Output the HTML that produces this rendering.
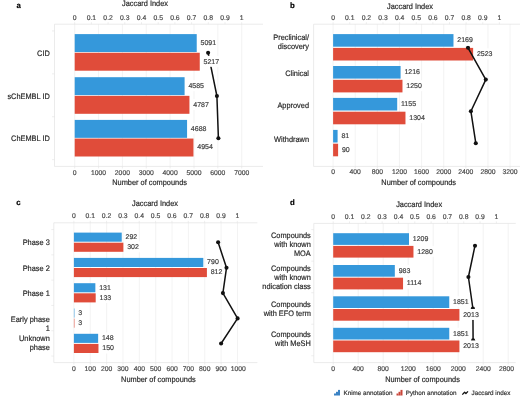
<!DOCTYPE html>
<html><head><meta charset="utf-8"><style>
html,body{margin:0;padding:0;background:#fff;width:520px;height:397px;overflow:hidden}
svg{display:block;font-family:"Liberation Sans", sans-serif;filter:blur(0.3px);text-rendering:geometricPrecision}
</style></head><body>
<svg width="520" height="397" viewBox="0 0 520 397">
<rect width="520" height="397" fill="#fff"/>
<line x1="74.70" y1="24.20" x2="74.70" y2="166.40" stroke="#ebebeb" stroke-width="0.6"/>
<line x1="74.70" y1="166.40" x2="74.70" y2="168.40" stroke="#e3e3e3" stroke-width="0.6"/>
<text x="74.70" y="174.90" font-size="6.8" fill="#4a4a4a" stroke="#4a4a4a" stroke-width="0.18" text-anchor="middle">0</text>
<line x1="98.56" y1="24.20" x2="98.56" y2="166.40" stroke="#ebebeb" stroke-width="0.6"/>
<line x1="98.56" y1="166.40" x2="98.56" y2="168.40" stroke="#e3e3e3" stroke-width="0.6"/>
<text x="98.56" y="174.90" font-size="6.8" fill="#4a4a4a" stroke="#4a4a4a" stroke-width="0.18" text-anchor="middle">1000</text>
<line x1="122.41" y1="24.20" x2="122.41" y2="166.40" stroke="#ebebeb" stroke-width="0.6"/>
<line x1="122.41" y1="166.40" x2="122.41" y2="168.40" stroke="#e3e3e3" stroke-width="0.6"/>
<text x="122.41" y="174.90" font-size="6.8" fill="#4a4a4a" stroke="#4a4a4a" stroke-width="0.18" text-anchor="middle">2000</text>
<line x1="146.27" y1="24.20" x2="146.27" y2="166.40" stroke="#ebebeb" stroke-width="0.6"/>
<line x1="146.27" y1="166.40" x2="146.27" y2="168.40" stroke="#e3e3e3" stroke-width="0.6"/>
<text x="146.27" y="174.90" font-size="6.8" fill="#4a4a4a" stroke="#4a4a4a" stroke-width="0.18" text-anchor="middle">3000</text>
<line x1="170.13" y1="24.20" x2="170.13" y2="166.40" stroke="#ebebeb" stroke-width="0.6"/>
<line x1="170.13" y1="166.40" x2="170.13" y2="168.40" stroke="#e3e3e3" stroke-width="0.6"/>
<text x="170.13" y="174.90" font-size="6.8" fill="#4a4a4a" stroke="#4a4a4a" stroke-width="0.18" text-anchor="middle">4000</text>
<line x1="193.99" y1="24.20" x2="193.99" y2="166.40" stroke="#ebebeb" stroke-width="0.6"/>
<line x1="193.99" y1="166.40" x2="193.99" y2="168.40" stroke="#e3e3e3" stroke-width="0.6"/>
<text x="193.99" y="174.90" font-size="6.8" fill="#4a4a4a" stroke="#4a4a4a" stroke-width="0.18" text-anchor="middle">5000</text>
<line x1="217.84" y1="24.20" x2="217.84" y2="166.40" stroke="#ebebeb" stroke-width="0.6"/>
<line x1="217.84" y1="166.40" x2="217.84" y2="168.40" stroke="#e3e3e3" stroke-width="0.6"/>
<text x="217.84" y="174.90" font-size="6.8" fill="#4a4a4a" stroke="#4a4a4a" stroke-width="0.18" text-anchor="middle">6000</text>
<line x1="241.70" y1="24.20" x2="241.70" y2="166.40" stroke="#ebebeb" stroke-width="0.6"/>
<line x1="241.70" y1="166.40" x2="241.70" y2="168.40" stroke="#e3e3e3" stroke-width="0.6"/>
<text x="241.70" y="174.90" font-size="6.8" fill="#4a4a4a" stroke="#4a4a4a" stroke-width="0.18" text-anchor="middle">7000</text>
<line x1="74.70" y1="22.20" x2="74.70" y2="24.20" stroke="#e3e3e3" stroke-width="0.6"/>
<text x="74.70" y="19.80" font-size="6.8" fill="#4a4a4a" stroke="#4a4a4a" stroke-width="0.18" text-anchor="middle">0</text>
<line x1="91.40" y1="22.20" x2="91.40" y2="24.20" stroke="#e3e3e3" stroke-width="0.6"/>
<text x="91.40" y="19.80" font-size="6.8" fill="#4a4a4a" stroke="#4a4a4a" stroke-width="0.18" text-anchor="middle">0.1</text>
<line x1="108.10" y1="22.20" x2="108.10" y2="24.20" stroke="#e3e3e3" stroke-width="0.6"/>
<text x="108.10" y="19.80" font-size="6.8" fill="#4a4a4a" stroke="#4a4a4a" stroke-width="0.18" text-anchor="middle">0.2</text>
<line x1="124.80" y1="22.20" x2="124.80" y2="24.20" stroke="#e3e3e3" stroke-width="0.6"/>
<text x="124.80" y="19.80" font-size="6.8" fill="#4a4a4a" stroke="#4a4a4a" stroke-width="0.18" text-anchor="middle">0.3</text>
<line x1="141.50" y1="22.20" x2="141.50" y2="24.20" stroke="#e3e3e3" stroke-width="0.6"/>
<text x="141.50" y="19.80" font-size="6.8" fill="#4a4a4a" stroke="#4a4a4a" stroke-width="0.18" text-anchor="middle">0.4</text>
<line x1="158.20" y1="22.20" x2="158.20" y2="24.20" stroke="#e3e3e3" stroke-width="0.6"/>
<text x="158.20" y="19.80" font-size="6.8" fill="#4a4a4a" stroke="#4a4a4a" stroke-width="0.18" text-anchor="middle">0.5</text>
<line x1="174.90" y1="22.20" x2="174.90" y2="24.20" stroke="#e3e3e3" stroke-width="0.6"/>
<text x="174.90" y="19.80" font-size="6.8" fill="#4a4a4a" stroke="#4a4a4a" stroke-width="0.18" text-anchor="middle">0.6</text>
<line x1="191.60" y1="22.20" x2="191.60" y2="24.20" stroke="#e3e3e3" stroke-width="0.6"/>
<text x="191.60" y="19.80" font-size="6.8" fill="#4a4a4a" stroke="#4a4a4a" stroke-width="0.18" text-anchor="middle">0.7</text>
<line x1="208.30" y1="22.20" x2="208.30" y2="24.20" stroke="#e3e3e3" stroke-width="0.6"/>
<text x="208.30" y="19.80" font-size="6.8" fill="#4a4a4a" stroke="#4a4a4a" stroke-width="0.18" text-anchor="middle">0.8</text>
<line x1="225.00" y1="22.20" x2="225.00" y2="24.20" stroke="#e3e3e3" stroke-width="0.6"/>
<text x="225.00" y="19.80" font-size="6.8" fill="#4a4a4a" stroke="#4a4a4a" stroke-width="0.18" text-anchor="middle">0.9</text>
<line x1="241.70" y1="22.20" x2="241.70" y2="24.20" stroke="#e3e3e3" stroke-width="0.6"/>
<text x="241.70" y="19.80" font-size="6.8" fill="#4a4a4a" stroke="#4a4a4a" stroke-width="0.18" text-anchor="middle">1</text>
<line x1="54.50" y1="24.20" x2="263.00" y2="24.20" stroke="#e3e3e3" stroke-width="0.7"/>
<line x1="54.50" y1="166.40" x2="263.00" y2="166.40" stroke="#e3e3e3" stroke-width="0.7"/>
<line x1="54.50" y1="24.20" x2="54.50" y2="166.40" stroke="#e3e3e3" stroke-width="0.7"/>
<line x1="52.00" y1="30.95" x2="54.50" y2="30.95" stroke="#e3e3e3" stroke-width="0.6"/>
<line x1="52.00" y1="73.85" x2="54.50" y2="73.85" stroke="#e3e3e3" stroke-width="0.6"/>
<line x1="52.00" y1="116.75" x2="54.50" y2="116.75" stroke="#e3e3e3" stroke-width="0.6"/>
<line x1="52.00" y1="159.65" x2="54.50" y2="159.65" stroke="#e3e3e3" stroke-width="0.6"/>
<rect x="74.70" y="34.10" width="122.03" height="17.95" fill="#3598db"/>
<rect x="74.70" y="52.75" width="125.05" height="17.95" fill="#e04c3a"/>
<rect x="74.70" y="77.20" width="109.90" height="17.95" fill="#3598db"/>
<rect x="74.70" y="95.85" width="114.74" height="17.95" fill="#e04c3a"/>
<rect x="74.70" y="119.90" width="112.37" height="17.95" fill="#3598db"/>
<rect x="74.70" y="138.55" width="118.75" height="17.95" fill="#e04c3a"/>
<polyline points="208.10,52.80 216.90,96.00 218.40,138.30" fill="none" stroke="#111" stroke-width="1.5" stroke-linejoin="round"/>
<circle cx="208.10" cy="52.80" r="2.05" fill="#111"/>
<circle cx="216.90" cy="96.00" r="2.05" fill="#111"/>
<circle cx="218.40" cy="138.30" r="2.05" fill="#111"/>
<rect x="199.53" y="37.17" width="17.57" height="11" fill="#fff"/>
<text x="200.53" y="44.93" font-size="7.0" fill="#404040" stroke="#404040" stroke-width="0.18" text-anchor="start">5091</text>
<rect x="202.55" y="55.83" width="17.57" height="11" fill="#fff"/>
<text x="203.55" y="63.58" font-size="7.0" fill="#404040" stroke="#404040" stroke-width="0.18" text-anchor="start">5217</text>
<rect x="187.40" y="80.27" width="17.57" height="11" fill="#fff"/>
<text x="188.40" y="88.03" font-size="7.0" fill="#404040" stroke="#404040" stroke-width="0.18" text-anchor="start">4585</text>
<rect x="192.24" y="98.92" width="17.57" height="11" fill="#fff"/>
<text x="193.24" y="106.68" font-size="7.0" fill="#404040" stroke="#404040" stroke-width="0.18" text-anchor="start">4787</text>
<rect x="189.87" y="122.97" width="17.57" height="11" fill="#fff"/>
<text x="190.87" y="130.73" font-size="7.0" fill="#404040" stroke="#404040" stroke-width="0.18" text-anchor="start">4688</text>
<rect x="196.25" y="141.62" width="17.57" height="11" fill="#fff"/>
<text x="197.25" y="149.38" font-size="7.0" fill="#404040" stroke="#404040" stroke-width="0.18" text-anchor="start">4954</text>
<text transform="translate(49.80,55.90) scale(0.93,1)" font-size="7.95" fill="#262626" stroke="#262626" stroke-width="0.18" text-anchor="end">CID</text>
<text transform="translate(49.80,98.90) scale(0.93,1)" font-size="7.95" fill="#262626" stroke="#262626" stroke-width="0.18" text-anchor="end">sChEMBL ID</text>
<text transform="translate(49.80,141.40) scale(0.93,1)" font-size="7.95" fill="#262626" stroke="#262626" stroke-width="0.18" text-anchor="end">ChEMBL ID</text>
<text transform="translate(145.00,5.80) scale(0.93,1)" font-size="7.95" fill="#262626" stroke="#262626" stroke-width="0.18" text-anchor="middle">Jaccard Index</text>
<text transform="translate(149.60,185.00) scale(0.93,1)" font-size="7.95" fill="#262626" stroke="#262626" stroke-width="0.18" text-anchor="middle">Number of compounds</text>
<text x="16.50" y="7.70" font-size="7.8" fill="#000" stroke="#000" stroke-width="0.18" text-anchor="start" font-weight="bold">a</text>
<line x1="333.10" y1="24.20" x2="333.10" y2="166.40" stroke="#ebebeb" stroke-width="0.6"/>
<line x1="333.10" y1="166.40" x2="333.10" y2="168.40" stroke="#e3e3e3" stroke-width="0.6"/>
<text x="333.10" y="174.00" font-size="6.8" fill="#4a4a4a" stroke="#4a4a4a" stroke-width="0.18" text-anchor="middle">0</text>
<line x1="355.22" y1="24.20" x2="355.22" y2="166.40" stroke="#ebebeb" stroke-width="0.6"/>
<line x1="355.22" y1="166.40" x2="355.22" y2="168.40" stroke="#e3e3e3" stroke-width="0.6"/>
<text x="355.22" y="174.00" font-size="6.8" fill="#4a4a4a" stroke="#4a4a4a" stroke-width="0.18" text-anchor="middle">400</text>
<line x1="377.34" y1="24.20" x2="377.34" y2="166.40" stroke="#ebebeb" stroke-width="0.6"/>
<line x1="377.34" y1="166.40" x2="377.34" y2="168.40" stroke="#e3e3e3" stroke-width="0.6"/>
<text x="377.34" y="174.00" font-size="6.8" fill="#4a4a4a" stroke="#4a4a4a" stroke-width="0.18" text-anchor="middle">800</text>
<line x1="399.46" y1="24.20" x2="399.46" y2="166.40" stroke="#ebebeb" stroke-width="0.6"/>
<line x1="399.46" y1="166.40" x2="399.46" y2="168.40" stroke="#e3e3e3" stroke-width="0.6"/>
<text x="399.46" y="174.00" font-size="6.8" fill="#4a4a4a" stroke="#4a4a4a" stroke-width="0.18" text-anchor="middle">1200</text>
<line x1="421.58" y1="24.20" x2="421.58" y2="166.40" stroke="#ebebeb" stroke-width="0.6"/>
<line x1="421.58" y1="166.40" x2="421.58" y2="168.40" stroke="#e3e3e3" stroke-width="0.6"/>
<text x="421.58" y="174.00" font-size="6.8" fill="#4a4a4a" stroke="#4a4a4a" stroke-width="0.18" text-anchor="middle">1600</text>
<line x1="443.70" y1="24.20" x2="443.70" y2="166.40" stroke="#ebebeb" stroke-width="0.6"/>
<line x1="443.70" y1="166.40" x2="443.70" y2="168.40" stroke="#e3e3e3" stroke-width="0.6"/>
<text x="443.70" y="174.00" font-size="6.8" fill="#4a4a4a" stroke="#4a4a4a" stroke-width="0.18" text-anchor="middle">2000</text>
<line x1="465.82" y1="24.20" x2="465.82" y2="166.40" stroke="#ebebeb" stroke-width="0.6"/>
<line x1="465.82" y1="166.40" x2="465.82" y2="168.40" stroke="#e3e3e3" stroke-width="0.6"/>
<text x="465.82" y="174.00" font-size="6.8" fill="#4a4a4a" stroke="#4a4a4a" stroke-width="0.18" text-anchor="middle">2400</text>
<line x1="487.94" y1="24.20" x2="487.94" y2="166.40" stroke="#ebebeb" stroke-width="0.6"/>
<line x1="487.94" y1="166.40" x2="487.94" y2="168.40" stroke="#e3e3e3" stroke-width="0.6"/>
<text x="487.94" y="174.00" font-size="6.8" fill="#4a4a4a" stroke="#4a4a4a" stroke-width="0.18" text-anchor="middle">2800</text>
<line x1="510.06" y1="24.20" x2="510.06" y2="166.40" stroke="#ebebeb" stroke-width="0.6"/>
<line x1="510.06" y1="166.40" x2="510.06" y2="168.40" stroke="#e3e3e3" stroke-width="0.6"/>
<text x="510.06" y="174.00" font-size="6.8" fill="#4a4a4a" stroke="#4a4a4a" stroke-width="0.18" text-anchor="middle">3200</text>
<line x1="333.10" y1="22.20" x2="333.10" y2="24.20" stroke="#e3e3e3" stroke-width="0.6"/>
<text x="333.10" y="19.80" font-size="6.8" fill="#4a4a4a" stroke="#4a4a4a" stroke-width="0.18" text-anchor="middle">0</text>
<line x1="349.73" y1="22.20" x2="349.73" y2="24.20" stroke="#e3e3e3" stroke-width="0.6"/>
<text x="349.73" y="19.80" font-size="6.8" fill="#4a4a4a" stroke="#4a4a4a" stroke-width="0.18" text-anchor="middle">0.1</text>
<line x1="366.36" y1="22.20" x2="366.36" y2="24.20" stroke="#e3e3e3" stroke-width="0.6"/>
<text x="366.36" y="19.80" font-size="6.8" fill="#4a4a4a" stroke="#4a4a4a" stroke-width="0.18" text-anchor="middle">0.2</text>
<line x1="382.99" y1="22.20" x2="382.99" y2="24.20" stroke="#e3e3e3" stroke-width="0.6"/>
<text x="382.99" y="19.80" font-size="6.8" fill="#4a4a4a" stroke="#4a4a4a" stroke-width="0.18" text-anchor="middle">0.3</text>
<line x1="399.62" y1="22.20" x2="399.62" y2="24.20" stroke="#e3e3e3" stroke-width="0.6"/>
<text x="399.62" y="19.80" font-size="6.8" fill="#4a4a4a" stroke="#4a4a4a" stroke-width="0.18" text-anchor="middle">0.4</text>
<line x1="416.25" y1="22.20" x2="416.25" y2="24.20" stroke="#e3e3e3" stroke-width="0.6"/>
<text x="416.25" y="19.80" font-size="6.8" fill="#4a4a4a" stroke="#4a4a4a" stroke-width="0.18" text-anchor="middle">0.5</text>
<line x1="432.88" y1="22.20" x2="432.88" y2="24.20" stroke="#e3e3e3" stroke-width="0.6"/>
<text x="432.88" y="19.80" font-size="6.8" fill="#4a4a4a" stroke="#4a4a4a" stroke-width="0.18" text-anchor="middle">0.6</text>
<line x1="449.51" y1="22.20" x2="449.51" y2="24.20" stroke="#e3e3e3" stroke-width="0.6"/>
<text x="449.51" y="19.80" font-size="6.8" fill="#4a4a4a" stroke="#4a4a4a" stroke-width="0.18" text-anchor="middle">0.7</text>
<line x1="466.14" y1="22.20" x2="466.14" y2="24.20" stroke="#e3e3e3" stroke-width="0.6"/>
<text x="466.14" y="19.80" font-size="6.8" fill="#4a4a4a" stroke="#4a4a4a" stroke-width="0.18" text-anchor="middle">0.8</text>
<line x1="482.77" y1="22.20" x2="482.77" y2="24.20" stroke="#e3e3e3" stroke-width="0.6"/>
<text x="482.77" y="19.80" font-size="6.8" fill="#4a4a4a" stroke="#4a4a4a" stroke-width="0.18" text-anchor="middle">0.9</text>
<line x1="499.40" y1="22.20" x2="499.40" y2="24.20" stroke="#e3e3e3" stroke-width="0.6"/>
<text x="499.40" y="19.80" font-size="6.8" fill="#4a4a4a" stroke="#4a4a4a" stroke-width="0.18" text-anchor="middle">1</text>
<line x1="313.60" y1="24.20" x2="520.00" y2="24.20" stroke="#e3e3e3" stroke-width="0.7"/>
<line x1="313.60" y1="166.40" x2="520.00" y2="166.40" stroke="#e3e3e3" stroke-width="0.7"/>
<line x1="313.60" y1="24.20" x2="313.60" y2="166.40" stroke="#e3e3e3" stroke-width="0.7"/>
<rect x="333.10" y="34.10" width="120.38" height="12.60" fill="#3598db"/>
<rect x="333.10" y="47.90" width="140.03" height="12.60" fill="#e04c3a"/>
<rect x="333.10" y="66.00" width="67.49" height="12.60" fill="#3598db"/>
<rect x="333.10" y="79.80" width="69.38" height="12.60" fill="#e04c3a"/>
<rect x="333.10" y="97.90" width="64.10" height="12.60" fill="#3598db"/>
<rect x="333.10" y="111.70" width="72.37" height="12.60" fill="#e04c3a"/>
<rect x="333.10" y="129.90" width="4.50" height="12.60" fill="#3598db"/>
<rect x="333.10" y="143.70" width="5.00" height="12.60" fill="#e04c3a"/>
<polyline points="468.00,47.80 485.80,79.60 470.90,111.30 475.80,143.20" fill="none" stroke="#111" stroke-width="1.5" stroke-linejoin="round"/>
<circle cx="468.00" cy="47.80" r="2.05" fill="#111"/>
<circle cx="485.80" cy="79.60" r="2.05" fill="#111"/>
<circle cx="470.90" cy="111.30" r="2.05" fill="#111"/>
<circle cx="475.80" cy="143.20" r="2.05" fill="#111"/>
<rect x="456.28" y="34.50" width="17.57" height="11" fill="#fff"/>
<text x="457.28" y="42.25" font-size="7.0" fill="#404040" stroke="#404040" stroke-width="0.18" text-anchor="start">2169</text>
<rect x="475.93" y="48.30" width="17.57" height="11" fill="#fff"/>
<text x="476.93" y="56.05" font-size="7.0" fill="#404040" stroke="#404040" stroke-width="0.18" text-anchor="start">2523</text>
<rect x="403.39" y="66.40" width="17.57" height="11" fill="#fff"/>
<text x="404.39" y="74.15" font-size="7.0" fill="#404040" stroke="#404040" stroke-width="0.18" text-anchor="start">1216</text>
<rect x="405.28" y="80.20" width="17.57" height="11" fill="#fff"/>
<text x="406.28" y="87.95" font-size="7.0" fill="#404040" stroke="#404040" stroke-width="0.18" text-anchor="start">1250</text>
<rect x="400.00" y="98.30" width="17.57" height="11" fill="#fff"/>
<text x="401.00" y="106.05" font-size="7.0" fill="#404040" stroke="#404040" stroke-width="0.18" text-anchor="start">1155</text>
<rect x="408.27" y="112.10" width="17.57" height="11" fill="#fff"/>
<text x="409.27" y="119.85" font-size="7.0" fill="#404040" stroke="#404040" stroke-width="0.18" text-anchor="start">1304</text>
<rect x="340.40" y="130.30" width="9.78" height="11" fill="#fff"/>
<text x="341.40" y="138.05" font-size="7.0" fill="#404040" stroke="#404040" stroke-width="0.18" text-anchor="start">81</text>
<rect x="340.90" y="144.10" width="9.78" height="11" fill="#fff"/>
<text x="341.90" y="151.85" font-size="7.0" fill="#404040" stroke="#404040" stroke-width="0.18" text-anchor="start">90</text>
<text transform="translate(309.00,39.85) scale(0.93,1)" font-size="7.95" fill="#262626" stroke="#262626" stroke-width="0.18" text-anchor="end">Preclinical/</text>
<text transform="translate(309.00,48.75) scale(0.93,1)" font-size="7.95" fill="#262626" stroke="#262626" stroke-width="0.18" text-anchor="end">discovery</text>
<text transform="translate(309.00,75.60) scale(0.93,1)" font-size="7.95" fill="#262626" stroke="#262626" stroke-width="0.18" text-anchor="end">Clinical</text>
<text transform="translate(309.00,107.90) scale(0.93,1)" font-size="7.95" fill="#262626" stroke="#262626" stroke-width="0.18" text-anchor="end">Approved</text>
<text transform="translate(309.00,141.70) scale(0.93,1)" font-size="7.95" fill="#262626" stroke="#262626" stroke-width="0.18" text-anchor="end">Withdrawn</text>
<text transform="translate(410.00,8.65) scale(0.93,1)" font-size="7.95" fill="#262626" stroke="#262626" stroke-width="0.18" text-anchor="middle">Jaccard Index</text>
<text transform="translate(418.70,185.40) scale(0.93,1)" font-size="7.95" fill="#262626" stroke="#262626" stroke-width="0.18" text-anchor="middle">Number of compounds</text>
<text x="290.00" y="7.50" font-size="7.8" fill="#000" stroke="#000" stroke-width="0.18" text-anchor="start" font-weight="bold">b</text>
<line x1="73.90" y1="222.80" x2="73.90" y2="362.60" stroke="#ebebeb" stroke-width="0.6"/>
<line x1="73.90" y1="362.60" x2="73.90" y2="364.60" stroke="#e3e3e3" stroke-width="0.6"/>
<text x="73.90" y="371.00" font-size="6.8" fill="#4a4a4a" stroke="#4a4a4a" stroke-width="0.18" text-anchor="middle">0</text>
<line x1="90.26" y1="222.80" x2="90.26" y2="362.60" stroke="#ebebeb" stroke-width="0.6"/>
<line x1="90.26" y1="362.60" x2="90.26" y2="364.60" stroke="#e3e3e3" stroke-width="0.6"/>
<text x="90.26" y="371.00" font-size="6.8" fill="#4a4a4a" stroke="#4a4a4a" stroke-width="0.18" text-anchor="middle">100</text>
<line x1="106.62" y1="222.80" x2="106.62" y2="362.60" stroke="#ebebeb" stroke-width="0.6"/>
<line x1="106.62" y1="362.60" x2="106.62" y2="364.60" stroke="#e3e3e3" stroke-width="0.6"/>
<text x="106.62" y="371.00" font-size="6.8" fill="#4a4a4a" stroke="#4a4a4a" stroke-width="0.18" text-anchor="middle">200</text>
<line x1="122.98" y1="222.80" x2="122.98" y2="362.60" stroke="#ebebeb" stroke-width="0.6"/>
<line x1="122.98" y1="362.60" x2="122.98" y2="364.60" stroke="#e3e3e3" stroke-width="0.6"/>
<text x="122.98" y="371.00" font-size="6.8" fill="#4a4a4a" stroke="#4a4a4a" stroke-width="0.18" text-anchor="middle">300</text>
<line x1="139.34" y1="222.80" x2="139.34" y2="362.60" stroke="#ebebeb" stroke-width="0.6"/>
<line x1="139.34" y1="362.60" x2="139.34" y2="364.60" stroke="#e3e3e3" stroke-width="0.6"/>
<text x="139.34" y="371.00" font-size="6.8" fill="#4a4a4a" stroke="#4a4a4a" stroke-width="0.18" text-anchor="middle">400</text>
<line x1="155.70" y1="222.80" x2="155.70" y2="362.60" stroke="#ebebeb" stroke-width="0.6"/>
<line x1="155.70" y1="362.60" x2="155.70" y2="364.60" stroke="#e3e3e3" stroke-width="0.6"/>
<text x="155.70" y="371.00" font-size="6.8" fill="#4a4a4a" stroke="#4a4a4a" stroke-width="0.18" text-anchor="middle">500</text>
<line x1="172.06" y1="222.80" x2="172.06" y2="362.60" stroke="#ebebeb" stroke-width="0.6"/>
<line x1="172.06" y1="362.60" x2="172.06" y2="364.60" stroke="#e3e3e3" stroke-width="0.6"/>
<text x="172.06" y="371.00" font-size="6.8" fill="#4a4a4a" stroke="#4a4a4a" stroke-width="0.18" text-anchor="middle">600</text>
<line x1="188.42" y1="222.80" x2="188.42" y2="362.60" stroke="#ebebeb" stroke-width="0.6"/>
<line x1="188.42" y1="362.60" x2="188.42" y2="364.60" stroke="#e3e3e3" stroke-width="0.6"/>
<text x="188.42" y="371.00" font-size="6.8" fill="#4a4a4a" stroke="#4a4a4a" stroke-width="0.18" text-anchor="middle">700</text>
<line x1="204.78" y1="222.80" x2="204.78" y2="362.60" stroke="#ebebeb" stroke-width="0.6"/>
<line x1="204.78" y1="362.60" x2="204.78" y2="364.60" stroke="#e3e3e3" stroke-width="0.6"/>
<text x="204.78" y="371.00" font-size="6.8" fill="#4a4a4a" stroke="#4a4a4a" stroke-width="0.18" text-anchor="middle">800</text>
<line x1="221.14" y1="222.80" x2="221.14" y2="362.60" stroke="#ebebeb" stroke-width="0.6"/>
<line x1="221.14" y1="362.60" x2="221.14" y2="364.60" stroke="#e3e3e3" stroke-width="0.6"/>
<text x="221.14" y="371.00" font-size="6.8" fill="#4a4a4a" stroke="#4a4a4a" stroke-width="0.18" text-anchor="middle">900</text>
<line x1="237.50" y1="222.80" x2="237.50" y2="362.60" stroke="#ebebeb" stroke-width="0.6"/>
<line x1="237.50" y1="362.60" x2="237.50" y2="364.60" stroke="#e3e3e3" stroke-width="0.6"/>
<text x="238.30" y="371.00" font-size="6.8" fill="#4a4a4a" stroke="#4a4a4a" stroke-width="0.18" text-anchor="middle">1000</text>
<line x1="73.90" y1="220.80" x2="73.90" y2="222.80" stroke="#e3e3e3" stroke-width="0.6"/>
<text x="73.90" y="218.00" font-size="6.8" fill="#4a4a4a" stroke="#4a4a4a" stroke-width="0.18" text-anchor="middle">0</text>
<line x1="90.24" y1="220.80" x2="90.24" y2="222.80" stroke="#e3e3e3" stroke-width="0.6"/>
<text x="90.24" y="218.00" font-size="6.8" fill="#4a4a4a" stroke="#4a4a4a" stroke-width="0.18" text-anchor="middle">0.1</text>
<line x1="106.58" y1="220.80" x2="106.58" y2="222.80" stroke="#e3e3e3" stroke-width="0.6"/>
<text x="106.58" y="218.00" font-size="6.8" fill="#4a4a4a" stroke="#4a4a4a" stroke-width="0.18" text-anchor="middle">0.2</text>
<line x1="122.92" y1="220.80" x2="122.92" y2="222.80" stroke="#e3e3e3" stroke-width="0.6"/>
<text x="122.92" y="218.00" font-size="6.8" fill="#4a4a4a" stroke="#4a4a4a" stroke-width="0.18" text-anchor="middle">0.3</text>
<line x1="139.26" y1="220.80" x2="139.26" y2="222.80" stroke="#e3e3e3" stroke-width="0.6"/>
<text x="139.26" y="218.00" font-size="6.8" fill="#4a4a4a" stroke="#4a4a4a" stroke-width="0.18" text-anchor="middle">0.4</text>
<line x1="155.60" y1="220.80" x2="155.60" y2="222.80" stroke="#e3e3e3" stroke-width="0.6"/>
<text x="155.60" y="218.00" font-size="6.8" fill="#4a4a4a" stroke="#4a4a4a" stroke-width="0.18" text-anchor="middle">0.5</text>
<line x1="171.94" y1="220.80" x2="171.94" y2="222.80" stroke="#e3e3e3" stroke-width="0.6"/>
<text x="171.94" y="218.00" font-size="6.8" fill="#4a4a4a" stroke="#4a4a4a" stroke-width="0.18" text-anchor="middle">0.6</text>
<line x1="188.28" y1="220.80" x2="188.28" y2="222.80" stroke="#e3e3e3" stroke-width="0.6"/>
<text x="188.28" y="218.00" font-size="6.8" fill="#4a4a4a" stroke="#4a4a4a" stroke-width="0.18" text-anchor="middle">0.7</text>
<line x1="204.62" y1="220.80" x2="204.62" y2="222.80" stroke="#e3e3e3" stroke-width="0.6"/>
<text x="204.62" y="218.00" font-size="6.8" fill="#4a4a4a" stroke="#4a4a4a" stroke-width="0.18" text-anchor="middle">0.8</text>
<line x1="220.96" y1="220.80" x2="220.96" y2="222.80" stroke="#e3e3e3" stroke-width="0.6"/>
<text x="220.96" y="218.00" font-size="6.8" fill="#4a4a4a" stroke="#4a4a4a" stroke-width="0.18" text-anchor="middle">0.9</text>
<line x1="237.30" y1="220.80" x2="237.30" y2="222.80" stroke="#e3e3e3" stroke-width="0.6"/>
<text x="237.30" y="218.00" font-size="6.8" fill="#4a4a4a" stroke="#4a4a4a" stroke-width="0.18" text-anchor="middle">1</text>
<line x1="53.80" y1="222.80" x2="257.40" y2="222.80" stroke="#e3e3e3" stroke-width="0.7"/>
<line x1="53.80" y1="362.60" x2="257.40" y2="362.60" stroke="#e3e3e3" stroke-width="0.7"/>
<line x1="53.80" y1="222.80" x2="53.80" y2="362.60" stroke="#e3e3e3" stroke-width="0.7"/>
<line x1="51.30" y1="229.55" x2="53.80" y2="229.55" stroke="#e3e3e3" stroke-width="0.6"/>
<line x1="51.30" y1="254.85" x2="53.80" y2="254.85" stroke="#e3e3e3" stroke-width="0.6"/>
<line x1="51.30" y1="280.15" x2="53.80" y2="280.15" stroke="#e3e3e3" stroke-width="0.6"/>
<line x1="51.30" y1="305.45" x2="53.80" y2="305.45" stroke="#e3e3e3" stroke-width="0.6"/>
<line x1="51.30" y1="330.75" x2="53.80" y2="330.75" stroke="#e3e3e3" stroke-width="0.6"/>
<line x1="51.30" y1="356.05" x2="53.80" y2="356.05" stroke="#e3e3e3" stroke-width="0.6"/>
<rect x="73.90" y="232.60" width="47.83" height="9.10" fill="#3598db"/>
<rect x="73.90" y="242.70" width="49.47" height="9.10" fill="#e04c3a"/>
<rect x="73.90" y="257.90" width="129.40" height="9.10" fill="#3598db"/>
<rect x="73.90" y="268.00" width="133.01" height="9.10" fill="#e04c3a"/>
<rect x="73.90" y="283.20" width="21.46" height="9.10" fill="#3598db"/>
<rect x="73.90" y="293.30" width="21.79" height="9.10" fill="#e04c3a"/>
<rect x="73.90" y="308.50" width="0.50" height="9.10" fill="#3598db"/>
<rect x="73.90" y="318.60" width="0.50" height="9.10" fill="#e04c3a"/>
<rect x="73.90" y="333.80" width="24.24" height="9.10" fill="#3598db"/>
<rect x="73.90" y="343.90" width="24.57" height="9.10" fill="#e04c3a"/>
<polyline points="218.10,242.30 226.50,267.80 222.90,293.10 237.60,318.40 221.10,343.50" fill="none" stroke="#111" stroke-width="1.5" stroke-linejoin="round"/>
<circle cx="218.10" cy="242.30" r="2.05" fill="#111"/>
<circle cx="226.50" cy="267.80" r="2.05" fill="#111"/>
<circle cx="222.90" cy="293.10" r="2.05" fill="#111"/>
<circle cx="237.60" cy="318.40" r="2.05" fill="#111"/>
<circle cx="221.10" cy="343.50" r="2.05" fill="#111"/>
<rect x="124.53" y="231.25" width="13.68" height="11" fill="#fff"/>
<text x="125.53" y="239.00" font-size="7.0" fill="#404040" stroke="#404040" stroke-width="0.18" text-anchor="start">292</text>
<rect x="126.17" y="241.35" width="13.68" height="11" fill="#fff"/>
<text x="127.17" y="249.10" font-size="7.0" fill="#404040" stroke="#404040" stroke-width="0.18" text-anchor="start">302</text>
<rect x="206.10" y="256.55" width="13.68" height="11" fill="#fff"/>
<text x="207.10" y="264.30" font-size="7.0" fill="#404040" stroke="#404040" stroke-width="0.18" text-anchor="start">790</text>
<rect x="209.71" y="266.65" width="13.68" height="11" fill="#fff"/>
<text x="210.71" y="274.40" font-size="7.0" fill="#404040" stroke="#404040" stroke-width="0.18" text-anchor="start">812</text>
<rect x="98.16" y="281.85" width="13.68" height="11" fill="#fff"/>
<text x="99.16" y="289.60" font-size="7.0" fill="#404040" stroke="#404040" stroke-width="0.18" text-anchor="start">131</text>
<rect x="98.49" y="291.95" width="13.68" height="11" fill="#fff"/>
<text x="99.49" y="299.70" font-size="7.0" fill="#404040" stroke="#404040" stroke-width="0.18" text-anchor="start">133</text>
<rect x="77.19" y="307.15" width="5.89" height="11" fill="#fff"/>
<text x="78.19" y="314.90" font-size="7.0" fill="#404040" stroke="#404040" stroke-width="0.18" text-anchor="start">3</text>
<rect x="77.19" y="317.25" width="5.89" height="11" fill="#fff"/>
<text x="78.19" y="325.00" font-size="7.0" fill="#404040" stroke="#404040" stroke-width="0.18" text-anchor="start">3</text>
<rect x="100.94" y="332.45" width="13.68" height="11" fill="#fff"/>
<text x="101.94" y="340.20" font-size="7.0" fill="#404040" stroke="#404040" stroke-width="0.18" text-anchor="start">148</text>
<rect x="101.27" y="342.55" width="13.68" height="11" fill="#fff"/>
<text x="102.27" y="350.30" font-size="7.0" fill="#404040" stroke="#404040" stroke-width="0.18" text-anchor="start">150</text>
<text transform="translate(49.80,245.40) scale(0.93,1)" font-size="7.95" fill="#262626" stroke="#262626" stroke-width="0.18" text-anchor="end">Phase 3</text>
<text transform="translate(49.80,271.10) scale(0.93,1)" font-size="7.95" fill="#262626" stroke="#262626" stroke-width="0.18" text-anchor="end">Phase 2</text>
<text transform="translate(49.80,296.40) scale(0.93,1)" font-size="7.95" fill="#262626" stroke="#262626" stroke-width="0.18" text-anchor="end">Phase 1</text>
<text transform="translate(49.80,322.05) scale(0.93,1)" font-size="7.95" fill="#262626" stroke="#262626" stroke-width="0.18" text-anchor="end">Early phase</text>
<text transform="translate(49.80,330.95) scale(0.93,1)" font-size="7.95" fill="#262626" stroke="#262626" stroke-width="0.18" text-anchor="end">1</text>
<text transform="translate(49.80,340.95) scale(0.93,1)" font-size="7.95" fill="#262626" stroke="#262626" stroke-width="0.18" text-anchor="end">Unknown</text>
<text transform="translate(49.80,349.85) scale(0.93,1)" font-size="7.95" fill="#262626" stroke="#262626" stroke-width="0.18" text-anchor="end">phase</text>
<text transform="translate(155.00,205.70) scale(0.93,1)" font-size="7.95" fill="#262626" stroke="#262626" stroke-width="0.18" text-anchor="middle">Jaccard Index</text>
<text transform="translate(158.40,382.10) scale(0.93,1)" font-size="7.95" fill="#262626" stroke="#262626" stroke-width="0.18" text-anchor="middle">Number of compounds</text>
<text x="16.30" y="204.70" font-size="7.8" fill="#000" stroke="#000" stroke-width="0.18" text-anchor="start" font-weight="bold">c</text>
<line x1="333.20" y1="223.40" x2="333.20" y2="362.60" stroke="#ebebeb" stroke-width="0.6"/>
<line x1="333.20" y1="362.60" x2="333.20" y2="364.60" stroke="#e3e3e3" stroke-width="0.6"/>
<text x="333.20" y="370.80" font-size="6.8" fill="#4a4a4a" stroke="#4a4a4a" stroke-width="0.18" text-anchor="middle">0</text>
<line x1="358.20" y1="223.40" x2="358.20" y2="362.60" stroke="#ebebeb" stroke-width="0.6"/>
<line x1="358.20" y1="362.60" x2="358.20" y2="364.60" stroke="#e3e3e3" stroke-width="0.6"/>
<text x="358.20" y="370.80" font-size="6.8" fill="#4a4a4a" stroke="#4a4a4a" stroke-width="0.18" text-anchor="middle">400</text>
<line x1="383.20" y1="223.40" x2="383.20" y2="362.60" stroke="#ebebeb" stroke-width="0.6"/>
<line x1="383.20" y1="362.60" x2="383.20" y2="364.60" stroke="#e3e3e3" stroke-width="0.6"/>
<text x="383.20" y="370.80" font-size="6.8" fill="#4a4a4a" stroke="#4a4a4a" stroke-width="0.18" text-anchor="middle">800</text>
<line x1="408.20" y1="223.40" x2="408.20" y2="362.60" stroke="#ebebeb" stroke-width="0.6"/>
<line x1="408.20" y1="362.60" x2="408.20" y2="364.60" stroke="#e3e3e3" stroke-width="0.6"/>
<text x="408.20" y="370.80" font-size="6.8" fill="#4a4a4a" stroke="#4a4a4a" stroke-width="0.18" text-anchor="middle">1200</text>
<line x1="433.20" y1="223.40" x2="433.20" y2="362.60" stroke="#ebebeb" stroke-width="0.6"/>
<line x1="433.20" y1="362.60" x2="433.20" y2="364.60" stroke="#e3e3e3" stroke-width="0.6"/>
<text x="433.20" y="370.80" font-size="6.8" fill="#4a4a4a" stroke="#4a4a4a" stroke-width="0.18" text-anchor="middle">1600</text>
<line x1="458.20" y1="223.40" x2="458.20" y2="362.60" stroke="#ebebeb" stroke-width="0.6"/>
<line x1="458.20" y1="362.60" x2="458.20" y2="364.60" stroke="#e3e3e3" stroke-width="0.6"/>
<text x="458.20" y="370.80" font-size="6.8" fill="#4a4a4a" stroke="#4a4a4a" stroke-width="0.18" text-anchor="middle">2000</text>
<line x1="483.20" y1="223.40" x2="483.20" y2="362.60" stroke="#ebebeb" stroke-width="0.6"/>
<line x1="483.20" y1="362.60" x2="483.20" y2="364.60" stroke="#e3e3e3" stroke-width="0.6"/>
<text x="483.20" y="370.80" font-size="6.8" fill="#4a4a4a" stroke="#4a4a4a" stroke-width="0.18" text-anchor="middle">2400</text>
<line x1="508.20" y1="223.40" x2="508.20" y2="362.60" stroke="#ebebeb" stroke-width="0.6"/>
<line x1="508.20" y1="362.60" x2="508.20" y2="364.60" stroke="#e3e3e3" stroke-width="0.6"/>
<text x="506.60" y="370.80" font-size="6.8" fill="#4a4a4a" stroke="#4a4a4a" stroke-width="0.18" text-anchor="middle">2800</text>
<line x1="333.20" y1="221.40" x2="333.20" y2="223.40" stroke="#e3e3e3" stroke-width="0.6"/>
<text x="333.20" y="218.60" font-size="6.8" fill="#4a4a4a" stroke="#4a4a4a" stroke-width="0.18" text-anchor="middle">0</text>
<line x1="349.52" y1="221.40" x2="349.52" y2="223.40" stroke="#e3e3e3" stroke-width="0.6"/>
<text x="349.52" y="218.60" font-size="6.8" fill="#4a4a4a" stroke="#4a4a4a" stroke-width="0.18" text-anchor="middle">0.1</text>
<line x1="365.84" y1="221.40" x2="365.84" y2="223.40" stroke="#e3e3e3" stroke-width="0.6"/>
<text x="365.84" y="218.60" font-size="6.8" fill="#4a4a4a" stroke="#4a4a4a" stroke-width="0.18" text-anchor="middle">0.2</text>
<line x1="382.16" y1="221.40" x2="382.16" y2="223.40" stroke="#e3e3e3" stroke-width="0.6"/>
<text x="382.16" y="218.60" font-size="6.8" fill="#4a4a4a" stroke="#4a4a4a" stroke-width="0.18" text-anchor="middle">0.3</text>
<line x1="398.48" y1="221.40" x2="398.48" y2="223.40" stroke="#e3e3e3" stroke-width="0.6"/>
<text x="398.48" y="218.60" font-size="6.8" fill="#4a4a4a" stroke="#4a4a4a" stroke-width="0.18" text-anchor="middle">0.4</text>
<line x1="414.80" y1="221.40" x2="414.80" y2="223.40" stroke="#e3e3e3" stroke-width="0.6"/>
<text x="414.80" y="218.60" font-size="6.8" fill="#4a4a4a" stroke="#4a4a4a" stroke-width="0.18" text-anchor="middle">0.5</text>
<line x1="431.12" y1="221.40" x2="431.12" y2="223.40" stroke="#e3e3e3" stroke-width="0.6"/>
<text x="431.12" y="218.60" font-size="6.8" fill="#4a4a4a" stroke="#4a4a4a" stroke-width="0.18" text-anchor="middle">0.6</text>
<line x1="447.44" y1="221.40" x2="447.44" y2="223.40" stroke="#e3e3e3" stroke-width="0.6"/>
<text x="447.44" y="218.60" font-size="6.8" fill="#4a4a4a" stroke="#4a4a4a" stroke-width="0.18" text-anchor="middle">0.7</text>
<line x1="463.76" y1="221.40" x2="463.76" y2="223.40" stroke="#e3e3e3" stroke-width="0.6"/>
<text x="463.76" y="218.60" font-size="6.8" fill="#4a4a4a" stroke="#4a4a4a" stroke-width="0.18" text-anchor="middle">0.8</text>
<line x1="480.08" y1="221.40" x2="480.08" y2="223.40" stroke="#e3e3e3" stroke-width="0.6"/>
<text x="480.08" y="218.60" font-size="6.8" fill="#4a4a4a" stroke="#4a4a4a" stroke-width="0.18" text-anchor="middle">0.9</text>
<line x1="496.40" y1="221.40" x2="496.40" y2="223.40" stroke="#e3e3e3" stroke-width="0.6"/>
<text x="496.40" y="218.60" font-size="6.8" fill="#4a4a4a" stroke="#4a4a4a" stroke-width="0.18" text-anchor="middle">1</text>
<line x1="313.80" y1="223.40" x2="515.70" y2="223.40" stroke="#e3e3e3" stroke-width="0.7"/>
<line x1="313.80" y1="362.60" x2="515.70" y2="362.60" stroke="#e3e3e3" stroke-width="0.7"/>
<line x1="313.80" y1="223.40" x2="313.80" y2="362.60" stroke="#e3e3e3" stroke-width="0.7"/>
<line x1="311.30" y1="229.63" x2="313.80" y2="229.63" stroke="#e3e3e3" stroke-width="0.6"/>
<line x1="311.30" y1="261.17" x2="313.80" y2="261.17" stroke="#e3e3e3" stroke-width="0.6"/>
<line x1="311.30" y1="292.70" x2="313.80" y2="292.70" stroke="#e3e3e3" stroke-width="0.6"/>
<line x1="311.30" y1="324.23" x2="313.80" y2="324.23" stroke="#e3e3e3" stroke-width="0.6"/>
<line x1="311.30" y1="355.77" x2="313.80" y2="355.77" stroke="#e3e3e3" stroke-width="0.6"/>
<rect x="333.20" y="233.20" width="75.80" height="11.70" fill="#3598db"/>
<rect x="333.20" y="245.90" width="80.26" height="11.70" fill="#e04c3a"/>
<rect x="333.20" y="265.00" width="61.63" height="11.70" fill="#3598db"/>
<rect x="333.20" y="277.70" width="69.85" height="11.70" fill="#e04c3a"/>
<rect x="333.20" y="296.30" width="116.06" height="11.70" fill="#3598db"/>
<rect x="333.20" y="309.00" width="126.22" height="11.70" fill="#e04c3a"/>
<rect x="333.20" y="327.80" width="116.06" height="11.70" fill="#3598db"/>
<rect x="333.20" y="340.50" width="126.22" height="11.70" fill="#e04c3a"/>
<polyline points="475.00,245.70 468.40,277.00 472.90,308.50 473.10,340.20" fill="none" stroke="#111" stroke-width="1.5" stroke-linejoin="round"/>
<circle cx="475.00" cy="245.70" r="2.05" fill="#111"/>
<circle cx="468.40" cy="277.00" r="2.05" fill="#111"/>
<circle cx="472.90" cy="308.50" r="2.05" fill="#111"/>
<circle cx="473.10" cy="340.20" r="2.05" fill="#111"/>
<rect x="411.80" y="233.15" width="17.57" height="11" fill="#fff"/>
<text x="412.80" y="240.90" font-size="7.0" fill="#404040" stroke="#404040" stroke-width="0.18" text-anchor="start">1209</text>
<rect x="416.26" y="245.85" width="17.57" height="11" fill="#fff"/>
<text x="417.26" y="253.60" font-size="7.0" fill="#404040" stroke="#404040" stroke-width="0.18" text-anchor="start">1280</text>
<rect x="397.63" y="264.95" width="13.68" height="11" fill="#fff"/>
<text x="398.63" y="272.70" font-size="7.0" fill="#404040" stroke="#404040" stroke-width="0.18" text-anchor="start">983</text>
<rect x="405.85" y="277.65" width="17.57" height="11" fill="#fff"/>
<text x="406.85" y="285.40" font-size="7.0" fill="#404040" stroke="#404040" stroke-width="0.18" text-anchor="start">1114</text>
<rect x="452.06" y="296.25" width="17.57" height="11" fill="#fff"/>
<text x="453.06" y="304.00" font-size="7.0" fill="#404040" stroke="#404040" stroke-width="0.18" text-anchor="start">1851</text>
<rect x="462.22" y="308.95" width="17.57" height="11" fill="#fff"/>
<text x="463.22" y="316.70" font-size="7.0" fill="#404040" stroke="#404040" stroke-width="0.18" text-anchor="start">2013</text>
<rect x="452.06" y="327.75" width="17.57" height="11" fill="#fff"/>
<text x="453.06" y="335.50" font-size="7.0" fill="#404040" stroke="#404040" stroke-width="0.18" text-anchor="start">1851</text>
<rect x="462.22" y="340.45" width="17.57" height="11" fill="#fff"/>
<text x="463.22" y="348.20" font-size="7.0" fill="#404040" stroke="#404040" stroke-width="0.18" text-anchor="start">2013</text>
<text transform="translate(310.80,238.40) scale(0.93,1)" font-size="7.95" fill="#262626" stroke="#262626" stroke-width="0.18" text-anchor="end">Compounds</text>
<text transform="translate(310.80,247.30) scale(0.93,1)" font-size="7.95" fill="#262626" stroke="#262626" stroke-width="0.18" text-anchor="end">with known</text>
<text transform="translate(310.80,256.20) scale(0.93,1)" font-size="7.95" fill="#262626" stroke="#262626" stroke-width="0.18" text-anchor="end">MOA</text>
<text transform="translate(310.80,271.30) scale(0.93,1)" font-size="7.95" fill="#262626" stroke="#262626" stroke-width="0.18" text-anchor="end">Compounds</text>
<text transform="translate(310.80,280.20) scale(0.93,1)" font-size="7.95" fill="#262626" stroke="#262626" stroke-width="0.18" text-anchor="end">with known</text>
<text transform="translate(310.80,289.10) scale(0.93,1)" font-size="7.95" fill="#262626" stroke="#262626" stroke-width="0.18" text-anchor="end">ndication class</text>
<text transform="translate(310.80,307.05) scale(0.93,1)" font-size="7.95" fill="#262626" stroke="#262626" stroke-width="0.18" text-anchor="end">Compounds</text>
<text transform="translate(310.80,315.95) scale(0.93,1)" font-size="7.95" fill="#262626" stroke="#262626" stroke-width="0.18" text-anchor="end">with EFO term</text>
<text transform="translate(310.80,336.95) scale(0.93,1)" font-size="7.95" fill="#262626" stroke="#262626" stroke-width="0.18" text-anchor="end">Compounds</text>
<text transform="translate(310.80,345.85) scale(0.93,1)" font-size="7.95" fill="#262626" stroke="#262626" stroke-width="0.18" text-anchor="end">with MeSH</text>
<text transform="translate(419.10,206.80) scale(0.93,1)" font-size="7.95" fill="#262626" stroke="#262626" stroke-width="0.18" text-anchor="middle">Jaccard Index</text>
<text transform="translate(422.50,382.10) scale(0.93,1)" font-size="7.95" fill="#262626" stroke="#262626" stroke-width="0.18" text-anchor="middle">Number of compounds</text>
<text x="289.90" y="204.70" font-size="7.8" fill="#000" stroke="#000" stroke-width="0.18" text-anchor="start" font-weight="bold">d</text>
<rect x="334.00" y="393.50" width="2.0" height="2.00" fill="#3b82c4"/>
<rect x="336.00" y="391.80" width="2.0" height="3.70" fill="#3b82c4"/>
<rect x="338.00" y="389.90" width="2.0" height="5.60" fill="#3b82c4"/>
<text x="343.50" y="395.30" font-size="6.3" fill="#333" stroke="#333" stroke-width="0.18" text-anchor="start">Knime annotation</text>
<rect x="396.50" y="393.50" width="2.0" height="2.00" fill="#c9463a"/>
<rect x="398.50" y="391.80" width="2.0" height="3.70" fill="#c9463a"/>
<rect x="400.50" y="389.90" width="2.0" height="5.60" fill="#c9463a"/>
<text x="405.70" y="395.30" font-size="6.3" fill="#333" stroke="#333" stroke-width="0.18" text-anchor="start">Python annotation</text>
<polyline points="462.3,394.6 464.6,392.3 465.9,393.5 468.0,391.4" fill="none" stroke="#111" stroke-width="1.3" stroke-linejoin="round"/>
<text x="471.50" y="395.30" font-size="6.3" fill="#333" stroke="#333" stroke-width="0.18" text-anchor="start">Jaccard index</text>
</svg>
</body></html>
